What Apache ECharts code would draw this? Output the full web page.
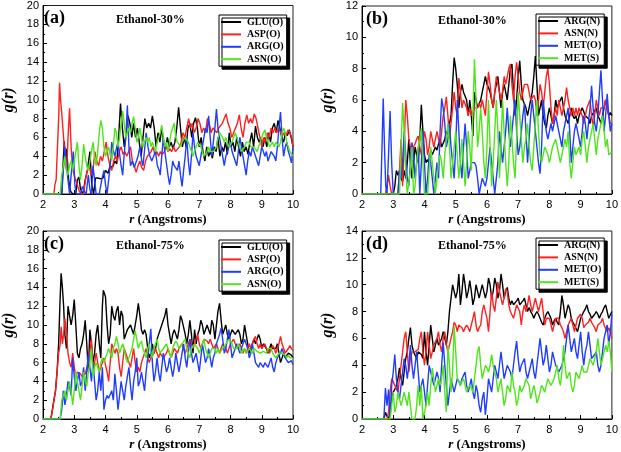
<!DOCTYPE html>
<html><head><meta charset="utf-8">
<script src="https://cdn.jsdelivr.net/npm/echarts@6/dist/echarts.min.js"></script>
<style>html,body{margin:0;padding:0;background:#fff}#c{width:621px;height:452px}</style>
</head><body><div id="c"></div>
<script>
// ---------- Panel (a): Ethanol-30%, oxygen atoms ----------
const a_GLU = [[2,0],[2.6,0],[2.64,3],[2.68,5.6],[2.72,3.5],[2.76,4.8],[2.82,1.5],[2.88,0.3],[2.95,0],[3.05,0],[3.1,1.5],[3.15,1.8],[3.2,0.5],[3.28,0],[3.35,1.5],[3.42,2.5],[3.5,4.5],[3.56,1],[3.62,0],[3.68,1.7],[3.75,1.7],[3.85,1.6],[3.92,1.7],[4.0,2.5],[4.08,2.2],[4.15,3],[4.22,2.8],[4.3,3.5],[4.36,3.2],[4.42,6],[4.48,9.6],[4.54,7],[4.6,5],[4.66,6.5],[4.72,8.3],[4.78,7.5],[4.84,6],[4.9,7.5],[4.96,6],[5.02,7],[5.08,5.5],[5.14,4],[5.2,6],[5.26,8],[5.32,7],[5.38,7.5],[5.44,7],[5.5,8.3],[5.56,7],[5.62,5],[5.68,6.5],[5.74,5.5],[5.8,7],[5.86,5.5],[5.92,4.8],[5.98,6],[6.04,5],[6.1,5.5],[6.16,4.8],[6.22,5.5],[6.28,7],[6.34,9.2],[6.4,7],[6.46,5],[6.52,6],[6.58,5],[6.64,7],[6.7,7.5],[6.76,6],[6.82,7.5],[6.88,8.1],[6.94,7],[7.0,5],[7.06,6],[7.12,4.5],[7.18,3.5],[7.24,5],[7.3,4],[7.36,4.5],[7.42,3.8],[7.48,5],[7.54,4.5],[7.6,6],[7.66,4],[7.72,5],[7.78,4.5],[7.84,5.5],[7.9,4.2],[7.96,6.5],[8.02,5],[8.08,5.5],[8.14,4.5],[8.2,6],[8.26,5],[8.32,4],[8.38,5.5],[8.44,4.5],[8.5,5],[8.56,4.2],[8.62,5.5],[8.68,6.5],[8.74,5],[8.8,7.2],[8.86,6],[8.92,5.5],[8.98,6],[9.04,5],[9.1,6],[9.16,5],[9.22,6.5],[9.28,5.5],[9.34,7],[9.4,7.5],[9.46,6.5],[9.52,7.8],[9.58,7],[9.64,6],[9.7,5.5],[9.76,6.5],[9.82,6.2],[9.88,6.8],[9.94,6],[10,5]];
const a_ASP = [[2,0],[2.35,0],[2.38,1],[2.42,1.5],[2.46,1.6],[2.5,8],[2.53,11.8],[2.56,10],[2.6,8.6],[2.64,8.5],[2.68,5],[2.72,3],[2.76,2.5],[2.8,6],[2.85,9.1],[2.9,5],[2.94,3],[2.98,2.2],[3.04,1.5],[3.1,1],[3.16,0.3],[3.22,0],[3.3,0],[3.36,1.5],[3.42,2.5],[3.48,3],[3.54,2],[3.6,2.5],[3.66,4.5],[3.72,3.5],[3.78,3],[3.84,4],[3.9,3.5],[3.96,4.5],[4.02,5.5],[4.08,4],[4.14,3],[4.2,2.5],[4.26,3.5],[4.32,4],[4.38,3.5],[4.44,4.5],[4.5,5],[4.56,4.2],[4.62,4.5],[4.68,4],[4.74,4.5],[4.8,5],[4.86,3.5],[4.92,3],[4.98,2.3],[5.04,3],[5.1,3.5],[5.16,2.8],[5.22,2.5],[5.28,3.5],[5.34,4],[5.4,3.8],[5.46,4.5],[5.52,5],[5.58,4.2],[5.64,4.5],[5.7,4],[5.76,4.5],[5.82,4.2],[5.88,4.5],[5.94,5],[6.0,4.5],[6.06,4.8],[6.12,4.5],[6.18,5],[6.24,4.5],[6.3,4.3],[6.36,5],[6.42,5.5],[6.48,6.5],[6.54,6],[6.6,7],[6.66,8],[6.72,7],[6.78,7.5],[6.84,6.5],[6.9,7],[6.96,8],[7.02,7.5],[7.08,6.5],[7.14,7],[7.2,6.5],[7.26,8],[7.32,7.5],[7.38,6.5],[7.44,7],[7.5,7],[7.56,6.5],[7.62,7],[7.68,7],[7.74,7.5],[7.8,8],[7.86,8.5],[7.92,7.5],[7.98,7],[8.04,6],[8.1,6.5],[8.16,7],[8.22,7.5],[8.28,8.4],[8.34,7],[8.4,6],[8.46,7.5],[8.52,8.4],[8.58,7.5],[8.64,8],[8.7,7.5],[8.76,8.5],[8.82,8],[8.88,7],[8.94,6],[9.0,5],[9.06,6],[9.12,5.5],[9.18,6.5],[9.24,6],[9.3,7],[9.36,6.5],[9.42,7],[9.48,6.5],[9.54,7],[9.6,6.8],[9.66,6.2],[9.72,6.5],[9.78,6.2],[9.84,6.8],[9.9,6.5],[9.96,6],[10,5]];
const a_ARG = [[2,0],[2.6,0],[2.64,2],[2.7,5],[2.75,3],[2.8,1.5],[2.85,0],[2.9,2],[2.97,4.5],[3.02,1],[3.06,0],[3.2,0],[3.26,0.8],[3.32,0.3],[3.38,0],[3.45,2],[3.5,0.5],[3.55,0],[3.6,3],[3.65,1.5],[3.7,0],[3.8,0],[3.88,1.5],[3.95,2.5],[4.0,1],[4.05,0],[4.1,0],[4.15,3],[4.2,5.5],[4.26,4.5],[4.3,4],[4.36,5],[4.4,5.5],[4.46,4],[4.5,3],[4.55,2],[4.6,4.3],[4.65,6],[4.7,9.4],[4.75,5],[4.8,3],[4.86,3.5],[4.92,2.8],[4.98,3],[5.04,4],[5.1,5],[5.16,3.5],[5.2,3],[5.26,5],[5.3,6.5],[5.36,5],[5.42,4],[5.48,3.5],[5.54,4],[5.6,4.5],[5.66,3],[5.72,2.5],[5.75,2],[5.8,4],[5.85,6],[5.9,4.5],[5.96,3],[6.0,2],[6.05,1],[6.1,2],[6.15,3.5],[6.2,3],[6.25,3],[6.3,2.5],[6.35,3.5],[6.4,2],[6.45,0.8],[6.5,2.5],[6.55,4],[6.6,6],[6.65,3.5],[6.7,2],[6.75,4],[6.8,6.5],[6.85,5],[6.9,4],[6.95,3.5],[7.0,3],[7.05,4],[7.1,5],[7.15,6],[7.2,7],[7.25,6.5],[7.3,8.3],[7.35,6],[7.4,4],[7.45,5.5],[7.5,7],[7.55,9],[7.6,7],[7.65,6],[7.7,5],[7.75,4],[7.8,3],[7.85,4],[7.9,4.5],[7.95,5],[8.0,5.5],[8.05,4.5],[8.1,4],[8.15,3.5],[8.2,3],[8.25,4.5],[8.3,6],[8.35,5],[8.4,4],[8.45,3],[8.5,2],[8.55,3.5],[8.6,4.5],[8.65,4],[8.7,5],[8.75,4.5],[8.8,4],[8.85,3.5],[8.9,3],[8.95,4],[9.0,5],[9.05,4.5],[9.1,4],[9.15,4.5],[9.2,3.5],[9.25,4],[9.3,4.5],[9.35,4.5],[9.4,4],[9.45,3.5],[9.5,5],[9.55,7],[9.6,8.7],[9.65,6],[9.7,4],[9.75,5],[9.8,5.5],[9.85,4.5],[9.9,4],[9.95,3.3],[10,5]];
const a_ASN = [[2,0],[2.55,0],[2.6,2],[2.65,3],[2.7,4],[2.75,2.5],[2.8,2],[2.85,3],[2.9,3.5],[2.95,2.5],[3.0,3.5],[3.05,4.5],[3.1,5.5],[3.15,3],[3.2,1.5],[3.25,3],[3.3,5.3],[3.35,4],[3.4,3],[3.45,2.5],[3.5,3.5],[3.55,4.5],[3.6,5.5],[3.65,4],[3.7,3],[3.75,4.5],[3.8,6.5],[3.85,7.8],[3.9,7],[3.95,5],[4.0,4],[4.05,4.5],[4.1,5],[4.15,4.2],[4.2,3.5],[4.25,5],[4.3,7],[4.35,6.5],[4.4,5],[4.45,6],[4.5,7.5],[4.55,8.8],[4.6,7.5],[4.65,6],[4.7,6.5],[4.75,7],[4.8,6.5],[4.85,7.5],[4.9,8.2],[4.95,7],[5.0,5.5],[5.05,6],[5.1,7],[5.15,6],[5.2,5],[5.25,5.5],[5.3,6],[5.35,5.5],[5.4,6],[5.45,5],[5.5,5.5],[5.55,5],[5.6,4.5],[5.65,5.5],[5.7,6],[5.75,6.5],[5.8,7.3],[5.85,6],[5.9,5],[5.95,5.5],[6.0,4.5],[6.05,5.5],[6.1,6.5],[6.15,7],[6.2,7.5],[6.25,6],[6.3,5.5],[6.35,5.5],[6.4,5],[6.45,5.5],[6.5,5.5],[6.55,6],[6.6,6],[6.65,5.5],[6.7,5],[6.75,4.5],[6.8,4],[6.85,4.5],[6.9,5],[6.95,5.5],[7.0,5.5],[7.05,5],[7.1,4.5],[7.15,4],[7.2,4],[7.25,4.5],[7.3,5],[7.35,4.5],[7.4,4.5],[7.45,4.5],[7.5,4.5],[7.55,5],[7.6,6],[7.65,6.5],[7.7,6.5],[7.75,6],[7.8,5.5],[7.85,6],[7.9,5.5],[7.95,5],[8.0,5],[8.05,5.5],[8.1,6],[8.15,6.5],[8.2,6.5],[8.25,5.5],[8.3,5],[8.35,4.5],[8.4,4.5],[8.45,5],[8.5,5.5],[8.55,5.5],[8.6,5.5],[8.65,5],[8.7,5],[8.75,5],[8.8,4.8],[8.85,4.5],[8.9,4.5],[8.95,5.5],[9.0,6],[9.05,6.5],[9.1,6.8],[9.15,6],[9.2,5.5],[9.25,5],[9.3,5],[9.35,5.5],[9.4,5],[9.45,5.5],[9.5,5.5],[9.55,5],[9.6,5.5],[9.65,6.5],[9.7,7],[9.75,6.5],[9.8,5.5],[9.85,5],[9.9,4.5],[9.95,4.5],[10,4]];

// ---------- Panel (b): Ethanol-30%, N / O / S atoms ----------
const b_ARGN = [[2,0],[3.0,0],[3.05,0.5],[3.1,1.5],[3.15,1.2],[3.2,1.5],[3.25,1],[3.3,0.8],[3.35,1.5],[3.4,1],[3.45,2],[3.5,3.5],[3.55,2],[3.6,1],[3.65,2],[3.7,3],[3.75,2.5],[3.8,2],[3.85,3.5],[3.9,5.7],[3.95,4],[4.0,2.5],[4.05,2],[4.1,2.2],[4.15,2],[4.2,2.8],[4.25,2.5],[4.3,2.5],[4.35,3],[4.4,2.8],[4.45,3.2],[4.5,3.5],[4.55,3],[4.6,3],[4.65,3.5],[4.7,4],[4.75,3.8],[4.8,4.5],[4.85,5],[4.9,7],[4.95,8.7],[5.0,8],[5.05,7],[5.1,5.5],[5.15,6.5],[5.2,7],[5.25,6.5],[5.3,6.5],[5.35,6],[5.4,5],[5.45,6],[5.5,5],[5.55,3.7],[5.6,6.5],[5.65,6],[5.7,5.5],[5.75,5.5],[5.8,6],[5.85,6.5],[5.9,7],[5.95,7.5],[6.0,7],[6.05,6.8],[6.1,6.5],[6.15,6],[6.2,5.5],[6.25,6.5],[6.3,7],[6.35,7.5],[6.4,6.5],[6.45,5.5],[6.5,6.5],[6.55,7],[6.6,6.5],[6.65,6],[6.7,7],[6.75,8],[6.8,8.3],[6.85,6.5],[6.9,5],[6.95,6],[7.0,7.5],[7.05,8.5],[7.1,7],[7.15,6],[7.2,6],[7.25,5.5],[7.3,5],[7.35,5.5],[7.4,6],[7.45,6.5],[7.5,7.5],[7.55,8.8],[7.6,7],[7.65,5],[7.7,5.5],[7.75,6],[7.8,5],[7.85,4.5],[7.9,4.2],[7.95,5],[8.0,5.5],[8.05,5],[8.1,4.5],[8.15,5],[8.2,6],[8.25,5.5],[8.3,5.5],[8.35,6],[8.4,6.2],[8.45,5.5],[8.5,5],[8.55,5],[8.6,4.5],[8.65,5],[8.7,5.5],[8.75,5],[8.8,4.8],[8.85,5],[8.9,4.5],[8.95,5],[9.0,5],[9.05,5.5],[9.1,5.5],[9.15,5],[9.2,5],[9.25,4.8],[9.3,4.5],[9.35,5],[9.4,5],[9.45,5.3],[9.5,5.5],[9.55,5],[9.6,4.8],[9.65,4.5],[9.7,5],[9.75,5.5],[9.8,6],[9.85,5.5],[9.9,5],[9.95,5.2],[10,5]];
const b_ASNN = [[2,0],[2.75,0],[2.8,0.5],[2.85,1.2],[2.9,0.5],[2.95,0],[3.15,0],[3.2,1.5],[3.25,3.5],[3.3,0.5],[3.35,3],[3.4,6],[3.45,5],[3.5,3.5],[3.55,3],[3.6,2.5],[3.65,3],[3.7,3.2],[3.75,3.5],[3.8,3.7],[3.85,3],[3.9,2.5],[3.95,3],[4.0,4],[4.05,3.5],[4.1,2.5],[4.15,3],[4.2,4],[4.25,3.5],[4.3,3],[4.35,3.5],[4.4,4],[4.45,3.5],[4.5,3],[4.55,4],[4.6,5],[4.65,5.5],[4.7,6.2],[4.75,5],[4.8,3.5],[4.85,4.5],[4.9,5.5],[4.95,6.5],[5.0,5.5],[5.05,5],[5.1,7.4],[5.15,6.5],[5.2,5.5],[5.25,6],[5.3,6],[5.35,5.5],[5.4,5],[5.45,5.5],[5.5,5],[5.55,5.2],[5.6,5.5],[5.65,5.5],[5.7,5.5],[5.75,5.8],[5.8,5.5],[5.85,6],[5.9,5.5],[5.95,5],[6.0,6.5],[6.05,7.8],[6.1,7],[6.15,6],[6.2,5.5],[6.25,6.5],[6.3,7.5],[6.35,7],[6.4,6.5],[6.45,6],[6.5,6.5],[6.55,7.5],[6.6,7],[6.65,7.5],[6.7,8],[6.75,8.3],[6.8,7],[6.85,6],[6.9,7.5],[6.95,8.4],[7.0,7.5],[7.05,6.5],[7.1,6],[7.15,6.5],[7.2,7],[7.25,7],[7.3,7],[7.35,6.5],[7.4,6],[7.45,6],[7.5,6.3],[7.55,6],[7.6,5],[7.65,6],[7.7,7],[7.75,6.5],[7.8,5.5],[7.85,6.5],[7.9,7.5],[7.95,8],[8.0,7],[8.05,5.5],[8.1,4.5],[8.15,5],[8.2,5.5],[8.25,5],[8.3,6],[8.35,5.5],[8.4,5],[8.45,5.5],[8.5,6],[8.55,6.8],[8.6,6],[8.65,5.5],[8.7,5],[8.75,5.5],[8.8,5],[8.85,5.5],[8.9,5],[8.95,5.5],[9.0,5.5],[9.05,5],[9.1,4.5],[9.15,5],[9.2,5.5],[9.25,5.5],[9.3,6],[9.35,5],[9.4,4.3],[9.45,5],[9.5,6],[9.55,5.5],[9.6,5],[9.65,5.5],[9.7,5.5],[9.75,5.5],[9.8,6],[9.85,5.5],[9.9,5],[9.95,4.5],[10,4.5]];
const b_METO = [[2,0],[2.6,0],[2.64,3],[2.68,6.1],[2.72,3],[2.76,0.5],[2.8,0],[2.85,2.5],[2.9,5.3],[2.95,2],[3.0,0],[3.15,0],[3.2,1.5],[3.25,1],[3.3,2],[3.35,4],[3.4,2.5],[3.45,1],[3.5,0.5],[3.55,2],[3.6,3.3],[3.65,2.5],[3.7,1],[3.75,2],[3.8,3],[3.85,0],[3.9,2],[3.95,4],[4.0,2],[4.05,0],[4.1,1],[4.15,2.5],[4.2,2],[4.25,1],[4.3,0],[4.35,1],[4.4,2],[4.45,1],[4.5,4],[4.55,6.1],[4.6,5.5],[4.65,4.5],[4.7,3],[4.75,3.5],[4.8,4.5],[4.85,3],[4.9,2],[4.95,1],[5.0,3],[5.05,6],[5.1,4],[5.15,2],[5.2,1],[5.25,3],[5.3,4.5],[5.35,3],[5.4,1],[5.45,1.5],[5.5,2],[5.55,2],[5.6,2],[5.65,1.8],[5.7,1],[5.75,0],[5.8,0.5],[5.85,1],[5.9,1],[5.95,0.5],[6.0,1],[6.05,2],[6.1,3],[6.15,2],[6.2,1],[6.25,0],[6.3,0],[6.35,2],[6.4,4],[6.45,3],[6.5,2],[6.55,3],[6.6,4],[6.65,5.5],[6.7,4],[6.75,3],[6.8,4],[6.85,5],[6.9,6],[6.95,4],[7.0,2.5],[7.05,3],[7.1,4],[7.15,5],[7.2,5.8],[7.25,4],[7.3,2],[7.35,3.5],[7.4,5],[7.45,6],[7.5,5],[7.55,4],[7.6,3],[7.65,2],[7.7,1.3],[7.75,3],[7.8,6],[7.85,5],[7.9,4],[7.95,3.5],[8.0,4],[8.05,4.5],[8.1,4],[8.15,4.5],[8.2,5],[8.25,4.5],[8.3,4],[8.35,3.5],[8.4,3],[8.45,4],[8.5,4.5],[8.55,5],[8.6,5.5],[8.65,4],[8.7,2],[8.75,3],[8.8,4],[8.85,4.5],[8.9,4],[8.95,3.5],[9.0,3],[9.05,4],[9.1,5],[9.15,4.5],[9.2,3.5],[9.25,4.5],[9.3,5.5],[9.35,6.9],[9.4,5.5],[9.45,4.5],[9.5,4],[9.55,5],[9.6,6.5],[9.65,7.9],[9.7,6],[9.75,4],[9.8,5],[9.85,6.4],[9.9,5],[9.95,4],[10,4.5]];
const b_METS = [[2,0],[3.2,0],[3.25,3],[3.3,5.8],[3.35,4],[3.4,1.5],[3.45,0],[3.5,0],[3.55,1.5],[3.6,3],[3.65,0],[3.7,0.5],[3.75,2],[3.8,3],[3.85,3.5],[3.9,4.2],[3.95,2],[4.0,0],[4.1,0],[4.15,1.5],[4.2,3],[4.25,2],[4.3,1],[4.35,0],[4.4,1],[4.45,2],[4.5,2.5],[4.55,2],[4.6,1],[4.65,2.5],[4.7,3.5],[4.75,4.5],[4.8,3],[4.85,1],[4.9,2],[4.95,3],[5.0,4],[5.05,2.5],[5.1,1],[5.15,2],[5.2,3.5],[5.25,2],[5.3,0.5],[5.35,2],[5.4,4],[5.45,3],[5.5,1.5],[5.55,5],[5.6,8.6],[5.65,6],[5.7,3],[5.75,4],[5.8,5.5],[5.85,4],[5.9,2],[5.95,1],[6.0,3],[6.05,6],[6.1,3],[6.15,0.5],[6.2,2],[6.25,4],[6.3,6],[6.35,4],[6.4,1],[6.45,3],[6.5,6],[6.55,4],[6.6,2],[6.65,0.5],[6.7,2],[6.75,5],[6.8,3.5],[6.85,2],[6.9,1],[6.95,3.5],[7.0,6.5],[7.05,5],[7.1,3.5],[7.15,2],[7.2,3],[7.25,3.5],[7.3,4.5],[7.35,3],[7.4,2],[7.45,1.5],[7.5,3],[7.55,4.5],[7.6,6],[7.65,4],[7.7,2.5],[7.75,2],[7.8,2.5],[7.85,3],[7.9,3],[7.95,2.5],[8.0,2],[8.05,2.5],[8.1,3],[8.15,3],[8.2,3.5],[8.25,3],[8.3,2.5],[8.35,2],[8.4,2],[8.45,3],[8.5,3.5],[8.55,3],[8.6,4],[8.65,2],[8.7,1],[8.75,2],[8.8,3],[8.85,2.5],[8.9,2.5],[8.95,3],[9.0,2.5],[9.05,3.5],[9.1,4],[9.15,3],[9.2,2],[9.25,3],[9.3,3.5],[9.35,4],[9.4,4.5],[9.45,3.5],[9.5,2.5],[9.55,3.5],[9.6,4],[9.65,4.5],[9.7,5],[9.75,4],[9.8,3],[9.85,3.5],[9.9,2.5],[9.95,2.5],[10,2.7]];

// ---------- Panel (c): Ethanol-75%, oxygen atoms ----------
const c_GLU = [[2,0],[2.25,0],[2.3,1],[2.35,2],[2.4,3],[2.45,5],[2.5,8],[2.55,13],[2.58,15.5],[2.62,14],[2.66,12],[2.7,9],[2.75,7.5],[2.8,12],[2.85,11],[2.9,10],[2.95,11],[3.0,12.7],[3.05,10],[3.1,7],[3.15,6.5],[3.2,7.5],[3.25,8],[3.3,9],[3.35,10.5],[3.4,8],[3.45,5],[3.5,9.5],[3.55,8],[3.6,6],[3.65,7],[3.7,9],[3.75,10],[3.8,8],[3.85,6.5],[3.9,12],[3.93,13.7],[4.0,13],[4.05,10],[4.1,8],[4.15,9],[4.2,12],[4.25,11],[4.3,10.5],[4.35,11.5],[4.4,12],[4.45,10],[4.5,11.5],[4.55,11],[4.6,8.5],[4.65,9],[4.7,9.5],[4.75,9.5],[4.8,10],[4.85,9.5],[4.9,9],[4.95,10],[5.0,11],[5.05,12.3],[5.1,11],[5.15,9.5],[5.2,9],[5.25,9.5],[5.3,9],[5.35,7.5],[5.4,6.5],[5.45,7],[5.5,8],[5.55,7],[5.6,7.5],[5.65,8.5],[5.7,9],[5.75,9.5],[5.8,10],[5.85,10.5],[5.9,11],[5.95,11.8],[6.0,10],[6.05,9],[6.1,8],[6.15,9],[6.2,9.5],[6.25,9],[6.3,8.5],[6.35,9.5],[6.4,11],[6.45,10.5],[6.5,10.5],[6.55,9],[6.6,8],[6.65,9],[6.7,10.5],[6.75,9],[6.8,7],[6.85,9.5],[6.9,8],[6.95,9],[7.0,9.5],[7.05,10.5],[7.1,10],[7.15,9],[7.2,9.5],[7.25,10],[7.3,10],[7.35,9],[7.4,10.5],[7.45,10],[7.5,8.5],[7.55,10],[7.6,11.5],[7.65,12.3],[7.7,10.5],[7.75,9],[7.8,9.5],[7.85,10],[7.9,9],[7.95,8.5],[8.0,9],[8.05,9.5],[8.1,9.5],[8.15,9],[8.2,9],[8.25,9.5],[8.3,9],[8.35,8],[8.4,8.5],[8.45,10],[8.5,9],[8.55,8],[8.6,7],[8.65,7.5],[8.7,8],[8.75,8.5],[8.8,8],[8.85,8.5],[8.9,9],[8.95,8.5],[9.0,7.5],[9.05,8],[9.1,8],[9.15,7.5],[9.2,7],[9.25,7.5],[9.3,8],[9.35,7.5],[9.4,7.5],[9.45,7.5],[9.5,8],[9.55,7],[9.6,6],[9.65,6.5],[9.7,7],[9.75,6.5],[9.8,6.5],[9.85,7],[9.9,7],[9.95,6.8],[10,6.5]];
const c_ASP = [[2,0],[2.25,0],[2.3,0.8],[2.35,2],[2.4,3],[2.45,5],[2.5,7],[2.55,8],[2.58,9.8],[2.62,8],[2.66,9],[2.7,10.7],[2.75,9],[2.8,7],[2.85,6],[2.9,5.5],[2.95,7],[3.0,5.5],[3.05,4.5],[3.1,5],[3.15,5],[3.2,4.8],[3.25,4.5],[3.3,4.5],[3.35,4.8],[3.4,5],[3.45,6],[3.5,7],[3.55,8.5],[3.6,5],[3.65,6],[3.7,7],[3.75,6],[3.8,5],[3.85,5.5],[3.9,6],[3.95,6.5],[4.0,6.5],[4.05,5],[4.1,4],[4.15,6],[4.2,8],[4.25,7.5],[4.3,7],[4.35,7.5],[4.4,7],[4.45,5.5],[4.5,4.5],[4.55,6],[4.6,7.5],[4.65,7],[4.7,6.5],[4.75,6],[4.8,5.5],[4.85,6.5],[4.9,7.5],[4.95,6],[5.0,5],[5.05,5.5],[5.1,5],[5.15,6],[5.2,6.5],[5.25,7],[5.3,7.5],[5.35,6.5],[5.4,6],[5.45,6.5],[5.5,6.5],[5.55,7],[5.6,7.5],[5.65,7],[5.7,6.5],[5.75,7],[5.8,7],[5.85,6.5],[5.9,6.5],[5.95,7],[6.0,7.5],[6.05,7],[6.1,6.5],[6.15,7],[6.2,7.5],[6.25,7.5],[6.3,7],[6.35,7.5],[6.4,7.5],[6.45,8],[6.5,7.5],[6.55,7],[6.6,7.5],[6.65,8],[6.7,8.5],[6.75,8],[6.8,7.5],[6.85,8],[6.9,8.5],[6.95,9],[7.0,8],[7.05,7.5],[7.1,8],[7.15,8.5],[7.2,8.5],[7.25,8.3],[7.3,8],[7.35,8.5],[7.4,8],[7.45,7.5],[7.5,7.5],[7.55,8],[7.6,7.5],[7.65,7],[7.7,7.5],[7.75,8],[7.8,8],[7.85,7.5],[7.9,7],[7.95,7.5],[8.0,8],[8.05,8],[8.1,8.5],[8.15,8],[8.2,8],[8.25,7.5],[8.3,8],[8.35,7.5],[8.4,7],[8.45,7.5],[8.5,7],[8.55,7.5],[8.6,8],[8.65,7.5],[8.7,8],[8.75,8.5],[8.8,8.8],[8.85,8],[8.9,7.5],[8.95,8],[9.0,7.5],[9.05,7.5],[9.1,8],[9.15,7.5],[9.2,7.5],[9.25,7],[9.3,7.5],[9.35,7.8],[9.4,7.5],[9.45,7],[9.5,7.5],[9.55,8],[9.6,8.8],[9.65,8],[9.7,7.5],[9.75,7],[9.8,7],[9.85,7.5],[9.9,7.8],[9.95,7.5],[10,7.3]];
const c_ARG = [[2,0],[2.55,0],[2.6,1],[2.65,3],[2.7,1.5],[2.75,2.5],[2.8,4],[2.85,3.5],[2.9,2.5],[2.95,6.5],[3.0,4.5],[3.05,3],[3.1,4],[3.15,5],[3.2,3.5],[3.25,4],[3.3,5.5],[3.35,3],[3.4,5],[3.45,7],[3.5,5.5],[3.55,4],[3.6,6],[3.65,4],[3.7,2],[3.75,3],[3.8,5],[3.85,3],[3.9,5.5],[3.95,1],[4.0,2],[4.05,2.5],[4.1,2.2],[4.15,2],[4.2,3],[4.25,2],[4.3,4.8],[4.35,3],[4.4,1],[4.45,2.5],[4.5,4],[4.55,3],[4.6,2],[4.65,3.5],[4.7,4.5],[4.75,5.5],[4.8,3.5],[4.85,2],[4.9,4],[4.95,5],[5.0,6.5],[5.05,3.5],[5.1,4],[5.15,5],[5.2,4],[5.25,3],[5.3,5],[5.35,6.5],[5.4,8],[5.45,9.6],[5.5,6],[5.55,4],[5.6,5],[5.65,6.5],[5.7,5],[5.75,4],[5.8,5.5],[5.85,7],[5.9,6],[5.95,5],[6.0,5.5],[6.05,6.5],[6.1,5.5],[6.15,4.5],[6.2,5.5],[6.25,7],[6.3,6],[6.35,5],[6.4,6],[6.45,7],[6.5,8],[6.55,6.5],[6.6,5.5],[6.65,7],[6.7,8.5],[6.75,7],[6.8,6],[6.85,6.5],[6.9,7],[6.95,6],[7.0,5],[7.05,6.5],[7.1,8],[7.15,7],[7.2,6],[7.25,6.5],[7.3,7.5],[7.35,6.5],[7.4,5.5],[7.45,6.5],[7.5,7],[7.55,8],[7.6,8.5],[7.65,9],[7.7,9.7],[7.75,8.5],[7.8,7],[7.85,7.5],[7.9,8.5],[7.95,9.5],[8.0,8],[8.05,6.5],[8.1,7],[8.15,7.5],[8.2,8],[8.25,7.5],[8.3,7],[8.35,7.5],[8.4,8],[8.45,8.5],[8.5,8],[8.55,7.5],[8.6,6.5],[8.65,7],[8.7,8],[8.75,7],[8.8,6],[8.85,6],[8.9,5.5],[8.95,6],[9.0,6],[9.05,5.5],[9.1,6],[9.15,6],[9.2,5.5],[9.25,6],[9.3,6.5],[9.35,5.5],[9.4,5],[9.45,6],[9.5,6.5],[9.55,6.5],[9.6,7],[9.65,7.5],[9.7,7],[9.75,6.5],[9.8,6.5],[9.85,6],[9.9,6],[9.95,6.2],[10,5.8]];
const c_ASN = [[2,0],[2.55,0],[2.6,2],[2.65,2.5],[2.7,3],[2.75,2],[2.8,3],[2.85,4],[2.9,3],[2.95,1.5],[3.0,3],[3.05,5],[3.1,4],[3.15,3],[3.2,2],[3.25,3.5],[3.3,5],[3.35,4],[3.4,3.5],[3.45,5],[3.5,6],[3.55,7.5],[3.6,4.5],[3.65,5.5],[3.7,6],[3.75,5.5],[3.8,5],[3.85,6],[3.9,6.5],[3.95,6],[4.0,6],[4.05,7],[4.1,7.5],[4.15,7],[4.2,6.5],[4.25,7.5],[4.3,8],[4.35,8.8],[4.4,8],[4.45,7],[4.5,7.5],[4.55,8],[4.6,7.5],[4.65,6.5],[4.7,6],[4.75,6.5],[4.8,7],[4.85,7.5],[4.9,8.5],[4.95,9.4],[5.0,8.5],[5.05,7.5],[5.1,8],[5.15,8.3],[5.2,7.5],[5.25,7],[5.3,6.5],[5.35,7.5],[5.4,8],[5.45,7],[5.5,6.5],[5.55,7.5],[5.6,8],[5.65,8.5],[5.7,7.5],[5.75,7],[5.8,7],[5.85,7.5],[5.9,7.5],[5.95,8],[6.0,7.5],[6.05,7],[6.1,6.5],[6.15,7.5],[6.2,8],[6.25,8.3],[6.3,8],[6.35,7.5],[6.4,7.5],[6.45,8],[6.5,8],[6.55,8.5],[6.6,7.5],[6.65,7],[6.7,6.5],[6.75,7.5],[6.8,7.5],[6.85,8],[6.9,8],[6.95,7.5],[7.0,7],[7.05,7.5],[7.1,8],[7.15,8.5],[7.2,7.5],[7.25,7],[7.3,6.5],[7.35,7],[7.4,7.5],[7.45,7.5],[7.5,7.5],[7.55,7],[7.6,7.5],[7.65,7],[7.7,7],[7.75,7.5],[7.8,7.5],[7.85,8],[7.9,8],[7.95,8.5],[8.0,8.5],[8.05,8],[8.1,7.5],[8.15,7.5],[8.2,7.5],[8.25,8],[8.3,7.5],[8.35,7],[8.4,7],[8.45,7.5],[8.5,7],[8.55,7],[8.6,7.5],[8.65,7.5],[8.7,7],[8.75,7.5],[8.8,7.5],[8.85,7.2],[8.9,7],[8.95,7],[9.0,7],[9.05,7.2],[9.1,7],[9.15,7],[9.2,7.5],[9.25,7.3],[9.3,7.5],[9.35,7],[9.4,7],[9.45,6.5],[9.5,6.5],[9.55,7],[9.6,6.8],[9.65,7],[9.7,7],[9.75,6.8],[9.8,6.5],[9.85,6.8],[9.9,6.5],[9.95,6.5],[10,6.5]];

// ---------- Panel (d): Ethanol-75%, N / O / S atoms ----------
const d_ARGN = [[2,0],[2.7,0],[2.75,0.5],[2.8,0.2],[2.85,0],[2.9,0.5],[2.95,1.5],[3.0,2],[3.05,2.2],[3.1,2.5],[3.15,3],[3.2,3.8],[3.25,3],[3.3,2.5],[3.35,3.5],[3.4,4.5],[3.45,5],[3.5,6],[3.55,6.8],[3.6,5.5],[3.65,5],[3.7,5],[3.75,4.5],[3.8,5],[3.85,5],[3.9,4.8],[3.95,4.5],[4.0,6.5],[4.05,5],[4.1,4],[4.15,5.5],[4.2,7],[4.25,6],[4.3,5],[4.35,5.5],[4.4,6],[4.45,5.5],[4.5,5.5],[4.55,6],[4.6,6.5],[4.65,6],[4.7,5.5],[4.75,6.5],[4.8,8],[4.85,9],[4.9,10],[4.95,9.5],[5.0,9],[5.05,9.5],[5.1,10.8],[5.15,8.5],[5.2,9.5],[5.25,10.8],[5.3,10],[5.35,9],[5.4,9.5],[5.45,10.3],[5.5,9.5],[5.55,8.5],[5.6,9],[5.65,10],[5.7,9.5],[5.75,9],[5.8,9.5],[5.85,10],[5.9,9.5],[5.95,9],[6.0,9.5],[6.05,10.5],[6.1,10],[6.15,9],[6.2,9.5],[6.25,10.5],[6.3,10],[6.35,9],[6.4,9.5],[6.45,10.8],[6.5,10],[6.55,9],[6.6,9.5],[6.65,9.8],[6.7,9],[6.75,8.5],[6.8,8.8],[6.85,8.5],[6.9,8.5],[6.95,8.8],[7.0,9],[7.05,8.5],[7.1,8.5],[7.15,8.8],[7.2,9],[7.25,8.5],[7.3,8],[7.35,8.3],[7.4,8],[7.45,7.8],[7.5,7.5],[7.55,7.8],[7.6,8],[7.65,7.8],[7.7,7.5],[7.75,7.2],[7.8,7],[7.85,7.5],[7.9,7.8],[7.95,8],[8.0,8],[8.05,7.5],[8.1,7],[8.15,7.3],[8.2,7.5],[8.25,7.2],[8.3,7],[8.35,8],[8.4,9.2],[8.45,8.5],[8.5,7.5],[8.55,8],[8.6,8.5],[8.65,8.2],[8.7,7.5],[8.75,7.2],[8.8,7],[8.85,7],[8.9,6.5],[8.95,7],[9.0,7.5],[9.05,7.5],[9.1,8],[9.15,8.2],[9.2,8.5],[9.25,8],[9.3,7.8],[9.35,7.5],[9.4,7.5],[9.45,7.8],[9.5,8],[9.55,7.8],[9.6,7.5],[9.65,7.8],[9.7,8],[9.75,8.3],[9.8,8.5],[9.85,8],[9.9,7.5],[9.95,7.5],[10,8]];
const d_ASNN = [[2,0],[2.8,0],[2.85,0.5],[2.9,2],[2.95,3],[3.0,2.8],[3.05,2.5],[3.1,2.5],[3.15,2],[3.2,3],[3.25,4],[3.3,5],[3.35,6],[3.4,6.5],[3.45,5],[3.5,3.5],[3.55,4.5],[3.6,5],[3.65,5],[3.7,5],[3.75,5],[3.8,5.2],[3.85,6],[3.9,6.5],[3.95,5],[4.0,4],[4.05,5],[4.1,6.5],[4.15,5.5],[4.2,4.5],[4.25,5],[4.3,5.5],[4.35,5.5],[4.4,6],[4.45,6.5],[4.5,5.5],[4.55,5],[4.6,6],[4.65,6.5],[4.7,5.5],[4.75,5],[4.8,5.5],[4.85,6],[4.9,6.5],[4.95,7.2],[5.0,7],[5.05,6.5],[5.1,7],[5.15,7],[5.2,6.8],[5.25,6.5],[5.3,6.8],[5.35,7],[5.4,6.8],[5.45,6.5],[5.5,7],[5.55,7.5],[5.6,8],[5.65,7],[5.7,6.5],[5.75,6.8],[5.8,7],[5.85,8],[5.9,8.5],[5.95,8],[6.0,7.5],[6.05,6.5],[6.1,8],[6.15,9.5],[6.2,8.5],[6.25,8],[6.3,9],[6.35,10.2],[6.4,9.5],[6.45,9],[6.5,8.5],[6.55,9],[6.6,9.7],[6.65,9.5],[6.7,8.5],[6.75,8],[6.8,8],[6.85,7.5],[6.9,8],[6.95,8.5],[7.0,8.5],[7.05,8],[7.1,7],[7.15,8],[7.2,8.5],[7.25,8],[7.3,8.5],[7.35,9.2],[7.4,8.5],[7.45,8],[7.5,8.5],[7.55,9],[7.6,8.5],[7.65,8],[7.7,8.5],[7.75,9],[7.8,8],[7.85,7],[7.9,7.5],[7.95,7.5],[8.0,7.5],[8.05,7],[8.1,6.5],[8.15,7],[8.2,7.5],[8.25,7.5],[8.3,7.5],[8.35,7],[8.4,6.8],[8.45,6.5],[8.5,6],[8.55,6.5],[8.6,7],[8.65,7],[8.7,7.5],[8.75,7],[8.8,6.5],[8.85,7],[8.9,7.5],[8.95,7.5],[9.0,7.8],[9.05,7.5],[9.1,6.8],[9.15,7],[9.2,7],[9.25,7.2],[9.3,7.5],[9.35,7.2],[9.4,7],[9.45,6.8],[9.5,6.5],[9.55,7],[9.6,7],[9.65,7.2],[9.7,7.5],[9.75,7],[9.8,7],[9.85,6.5],[9.9,6.8],[9.95,6.5],[10,6]];
const d_METO = [[2,0],[2.7,0],[2.75,2.3],[2.8,1],[2.85,2.2],[2.9,0],[2.95,2.5],[3.0,3.5],[3.05,4.8],[3.1,3],[3.15,2],[3.2,1.5],[3.25,2.5],[3.3,3.5],[3.35,4.5],[3.4,4],[3.45,3],[3.5,4],[3.55,5.5],[3.6,4],[3.65,3],[3.7,4],[3.75,5],[3.8,3.5],[3.85,2],[3.9,2.5],[3.95,3],[4.0,2],[4.05,1],[4.1,2.5],[4.15,4],[4.2,3.5],[4.25,3],[4.3,2.5],[4.35,3],[4.4,3.5],[4.45,3],[4.5,2],[4.55,4],[4.6,5.7],[4.65,4],[4.7,2.5],[4.75,1],[4.8,2],[4.85,3],[4.9,2.5],[4.95,2],[5.0,2.5],[5.05,3],[5.1,2.8],[5.15,2.5],[5.2,3],[5.25,3],[5.3,3.5],[5.35,2.5],[5.4,2],[5.45,2.5],[5.5,3],[5.55,2],[5.6,1.5],[5.65,2.5],[5.7,2],[5.75,1],[5.8,0.5],[5.85,1.5],[5.9,2],[5.95,0.3],[6.0,1.5],[6.05,3],[6.1,2.5],[6.15,2],[6.2,3],[6.25,4],[6.3,3.5],[6.35,3],[6.4,4],[6.45,5],[6.5,4],[6.55,3],[6.6,3.5],[6.65,4],[6.7,4],[6.75,3.5],[6.8,3],[6.85,4],[6.9,5],[6.95,5.8],[7.0,4.5],[7.05,3.5],[7.1,4],[7.15,4],[7.2,4.5],[7.25,3.5],[7.3,3],[7.35,3.5],[7.4,4],[7.45,4.5],[7.5,3.5],[7.55,3],[7.6,4],[7.65,5],[7.7,6],[7.75,5],[7.8,4],[7.85,4.5],[7.9,5.5],[7.95,4.5],[8.0,3.5],[8.05,4],[8.1,5],[8.15,4.5],[8.2,4],[8.25,4],[8.3,3.5],[8.35,3.5],[8.4,4],[8.45,4.5],[8.5,5],[8.55,6],[8.6,7],[8.65,6],[8.7,5],[8.75,5.5],[8.8,6],[8.85,5],[8.9,4.5],[8.95,5.5],[9.0,6.5],[9.05,5],[9.1,4],[9.15,5],[9.2,5.5],[9.25,6.5],[9.3,5.5],[9.35,4.5],[9.4,4.5],[9.45,4.8],[9.5,5],[9.55,4],[9.6,3.5],[9.65,4],[9.7,5],[9.75,6],[9.8,6.5],[9.85,7],[9.9,5.5],[9.95,6.5],[10,7.8]];
const d_METS = [[2,0],[2.9,0],[2.95,1],[3.0,2],[3.05,0.5],[3.1,1],[3.15,2],[3.2,1.5],[3.25,1],[3.3,1.5],[3.35,2],[3.4,1.5],[3.45,1],[3.5,2],[3.55,1],[3.6,0],[3.7,0],[3.75,1],[3.8,2.5],[3.85,1],[3.9,2.5],[3.95,0],[4.0,0],[4.05,1],[4.1,2],[4.15,1],[4.2,2.5],[4.25,3.8],[4.3,3],[4.35,2],[4.4,2.5],[4.45,3],[4.5,2.5],[4.55,3],[4.6,4],[4.65,2],[4.7,0.5],[4.75,5.5],[4.8,4],[4.85,2],[4.9,3.5],[4.95,6.9],[5.0,5],[5.05,3],[5.1,2.8],[5.15,2.5],[5.2,2.8],[5.25,3],[5.3,2.5],[5.35,2],[5.4,2.3],[5.45,2.5],[5.5,2.3],[5.55,2],[5.6,3],[5.65,4],[5.7,5],[5.75,5.4],[5.8,4],[5.85,3],[5.9,3.5],[5.95,4],[6.0,3.8],[6.05,3.5],[6.1,4],[6.15,4.8],[6.2,4],[6.25,3.5],[6.3,3],[6.35,2],[6.4,2.5],[6.45,3],[6.5,2],[6.55,1],[6.6,1.5],[6.65,2.5],[6.7,2.5],[6.75,2],[6.8,3.5],[6.85,2.5],[6.9,2],[6.95,1],[7.0,1.5],[7.05,2.5],[7.1,2],[7.15,2],[7.2,2.5],[7.25,3],[7.3,3],[7.35,2.5],[7.4,1.5],[7.45,2],[7.5,2.5],[7.55,2],[7.6,1.2],[7.65,1.5],[7.7,2],[7.75,2.5],[7.8,2.3],[7.85,2],[7.9,2.5],[7.95,3],[8.0,3],[8.05,2.5],[8.1,2.5],[8.15,3],[8.2,3.5],[8.25,4],[8.3,3],[8.35,2.5],[8.4,3.5],[8.45,5.5],[8.5,4],[8.55,3],[8.6,3],[8.65,3.5],[8.7,2.5],[8.75,2],[8.8,2.5],[8.85,3.5],[8.9,3.5],[8.95,3],[9.0,3.5],[9.05,4],[9.1,3.5],[9.15,3.5],[9.2,3.5],[9.25,4],[9.3,4.5],[9.35,4.5],[9.4,4],[9.45,4],[9.5,5],[9.55,6],[9.6,5],[9.65,4],[9.7,4.5],[9.75,5],[9.8,5.5],[9.85,5],[9.9,5.8],[9.95,5],[10,3.5]];

const namesO = ['GLU(O)', 'ASP(O)', 'ARG(O)', 'ASN(O)'];
const namesN = ['ARG(N)', 'ASN(N)', 'MET(O)', 'MET(S)'];
const panelLetters = ['(a)', '(b)', '(c)', '(d)'];
const panelTitles = ['Ethanol-30%', 'Ethanol-30%', 'Ethanol-75%', 'Ethanol-75%'];
const yMax = [20, 12, 20, 14];
const xMin = 2, xMax = 10;

const panelData = [
  [a_GLU, a_ASP, a_ARG, a_ASN],
  [b_ARGN, b_ASNN, b_METO, b_METS],
  [c_GLU, c_ASP, c_ARG, c_ASN],
  [d_ARGN, d_ASNN, d_METO, d_METS]
];
const panelNames = [namesO, namesN, namesO, namesN];
const colors = ['#000000', '#ff1f1f', '#1f3cff', '#4fe51a'];

// layout
const grids = [
  {left: 40, top: 5, width: 253, height: 189},
  {left: 362, top: 6, width: 253, height: 188},
  {left: 40, top: 231, width: 253, height: 189},
  {left: 362, top: 231, width: 253, height: 189}
];
const legendPos = [[219, 15], [536, 14], [219, 240], [536, 238]];

const serif = 'Liberation Serif';
const sans = 'Liberation Sans';

const option = {
  animation: false,
  backgroundColor: '#fff',
  grid: grids.map(g => Object.assign({show: true, borderColor: '#222', borderWidth: 1, containLabel: false}, g)),
  xAxis: grids.map((g, i) => ({
    type: 'value', gridIndex: i, min: xMin, max: xMax, interval: 1,
    name: '{i|r} (Angstroms)', nameLocation: 'middle', nameGap: 19,
    nameTextStyle: {fontFamily: serif, fontWeight: 'bold', fontSize: 13, color: '#000',
      rich: {i: {fontFamily: serif, fontWeight: 'bold', fontStyle: 'italic', fontSize: 13, color: '#000'}}},
    axisLine: {lineStyle: {color: '#000', width: 1}},
    axisTick: {inside: true, length: 4, lineStyle: {color: '#000'}},
    minorTick: {show: true, splitNumber: 2, length: 2, lineStyle: {color: '#000'}},
    axisLabel: {fontFamily: sans, fontSize: 11, color: '#000', margin: 5},
    splitLine: {show: false}
  })),
  yAxis: grids.map((g, i) => ({
    type: 'value', gridIndex: i, min: 0, max: yMax[i], interval: 2,
    name: 'g(r)', nameLocation: 'middle', nameGap: 26, nameRotate: 90,
    nameTextStyle: {fontFamily: serif, fontWeight: 'bold', fontStyle: 'italic', fontSize: 16, color: '#000'},
    axisLine: {show: true, lineStyle: {color: '#000', width: 1}},
    axisTick: {show: true, inside: true, length: 4, lineStyle: {color: '#000'}},
    minorTick: {show: true, splitNumber: 2, length: 2, lineStyle: {color: '#000'}},
    axisLabel: {fontFamily: sans, fontSize: 11, color: '#000', margin: 4},
    splitLine: {show: false}
  })),
  legend: grids.map((g, i) => ({
    orient: 'vertical', left: legendPos[i][0], top: legendPos[i][1],
    data: panelNames[i].map(n => ({name: n, icon: 'rect'})),
    itemWidth: 20, itemHeight: 2, itemGap: 2.4,
    padding: [2, 3, 2, 2],
    backgroundColor: '#fff', borderColor: '#000', borderWidth: 1,
    shadowColor: '#000', shadowBlur: 0, shadowOffsetX: 3, shadowOffsetY: 3,
    textStyle: {fontFamily: serif, fontWeight: 'bold', fontSize: 10, lineHeight: 10, color: '#000', padding: [0, 0, 0, 1]},
    selectedMode: false
  })),
  graphic: [],
  series: []
};

grids.forEach((g, i) => {
  panelData[i].forEach((arr, k) => {
    option.series.push({
      type: 'line', name: panelNames[i][k], xAxisIndex: i, yAxisIndex: i,
      data: arr, symbol: 'none', showSymbol: false, smooth: false,
      lineStyle: {color: colors[k], width: 1.4}, itemStyle: {color: colors[k]},
      z: 2 + k, clip: true
    });
  });
  option.graphic.push({
    type: 'text', left: g.left + 4, top: g.top + 4, z: 100,
    style: {text: panelLetters[i], font: 'bold 18px "Liberation Serif"', fill: '#000'}
  });
  option.graphic.push({
    type: 'text', left: g.left + 76, top: g.top + 9, z: 100,
    style: {text: panelTitles[i], font: 'bold 12px "Liberation Serif"', fill: '#000'}
  });
});

const chart = echarts.init(document.getElementById('c'), null, {renderer: 'canvas'});
chart.setOption(option);
</script>
</body></html>
